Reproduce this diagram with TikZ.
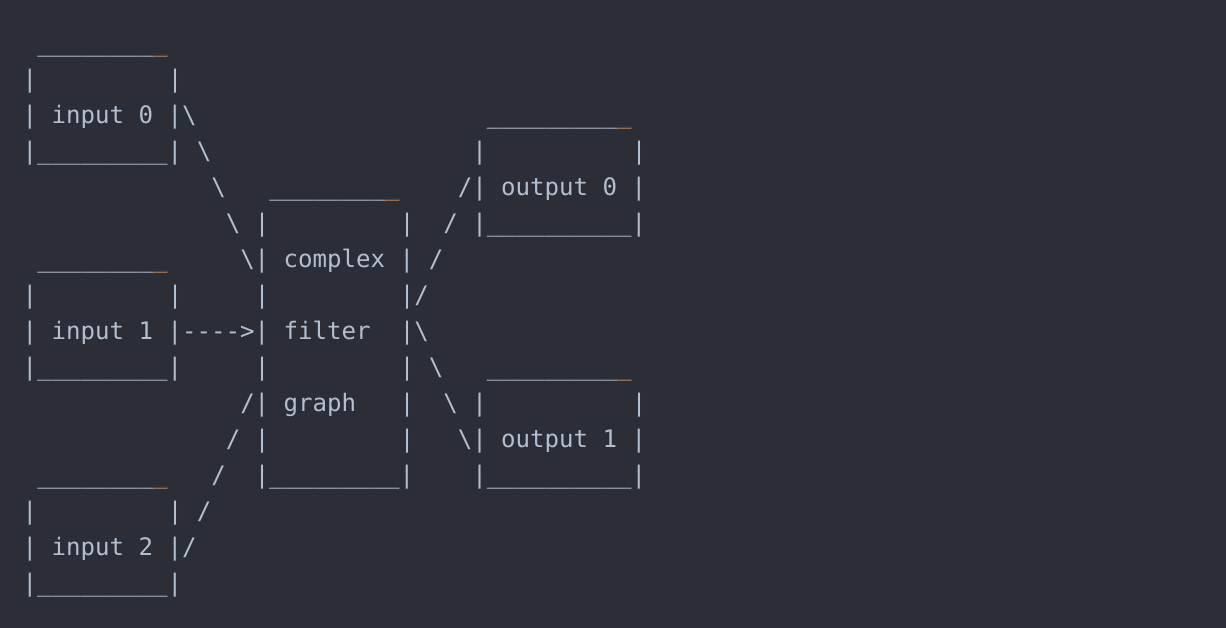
\documentclass[tikz,border=0pt]{standalone}
\usepackage{fontspec}
\newfontfamily\asciifont{DejaVu Sans Mono}
\definecolor{bg}{HTML}{2B2E36}
\definecolor{fg}{HTML}{B2BFD0}
\definecolor{acc}{HTML}{D08A52}
\newcommand\uE{\_\_\_\_\_\_\_\_}
\newcommand\uN{\uE\_}
\newcommand\uT{\uN\_}
\newcommand\oU{\textcolor{acc}{\_}}
\newcommand\bs{\textbackslash}
\newcommand\seg[4]{\node[ch] (#1) at ({22.75+14.5*#2},{612-36*#3}) {#4};}
\begin{document}
\begin{tikzpicture}[x=1pt,y=1pt,
  ch/.style={anchor=base west,inner sep=0pt,outer sep=0pt,text=fg,
    font=\asciifont\fontsize{24.08}{36}\selectfont}]
\fill[bg] (0,0) rectangle (1226,628);
% row 1
\seg{in0top}{1}{1}{\uE\oU}
% row 2
\seg{in0l2}{0}{2}{|}
\seg{in0r2}{10}{2}{|}
% row 3
\seg{in0txt}{0}{3}{| input 0 |\bs}
\seg{out0top}{32}{3}{\uN\oU}
% row 4
\seg{in0bot}{0}{4}{|\uN|}
\seg{a4}{12}{4}{\bs}
\seg{out0l4}{31}{4}{|}
\seg{out0r4}{42}{4}{|}
% row 5
\seg{a5}{13}{5}{\bs}
\seg{midtop}{17}{5}{\uE\oU}
\seg{out0txt}{30}{5}{/| output 0 |}
% row 6
\seg{a6}{14}{6}{\bs}
\seg{midl6}{16}{6}{|}
\seg{midr6}{26}{6}{|}
\seg{b6}{29}{6}{/}
\seg{out0bot}{31}{6}{|\uT|}
% row 7
\seg{in1top}{1}{7}{\uE\oU}
\seg{midtxt1}{15}{7}{\bs| complex |}
\seg{b7}{28}{7}{/}
% row 8
\seg{in1l8}{0}{8}{|}
\seg{in1r8}{10}{8}{|}
\seg{midl8}{16}{8}{|}
\seg{midr8}{26}{8}{|/}
% row 9
\seg{in1txt}{0}{9}{| input 1 |-{}-{}-{}->| filter}
\seg{midr9}{26}{9}{|\bs}
% row 10
\seg{in1bot}{0}{10}{|\uN|}
\seg{midl10}{16}{10}{|}
\seg{midr10}{26}{10}{|}
\seg{c10}{28}{10}{\bs}
\seg{out1top}{32}{10}{\uN\oU}
% row 11
\seg{midtxt3}{15}{11}{/| graph}
\seg{midr11}{26}{11}{|}
\seg{c11}{29}{11}{\bs}
\seg{out1l11}{31}{11}{|}
\seg{out1r11}{42}{11}{|}
% row 12
\seg{d12}{14}{12}{/}
\seg{midl12}{16}{12}{|}
\seg{midr12}{26}{12}{|}
\seg{out1txt}{30}{12}{\bs| output 1 |}
% row 13
\seg{in2top}{1}{13}{\uE\oU}
\seg{d13}{13}{13}{/}
\seg{midbot}{16}{13}{|\uN|}
\seg{out1bot}{31}{13}{|\uT|}
% row 14
\seg{in2l14}{0}{14}{|}
\seg{in2r14}{10}{14}{|}
\seg{d14}{12}{14}{/}
% row 15
\seg{in2txt}{0}{15}{| input 2 |/}
% row 16
\seg{in2bot}{0}{16}{|\uN|}
\end{tikzpicture}
\end{document}
